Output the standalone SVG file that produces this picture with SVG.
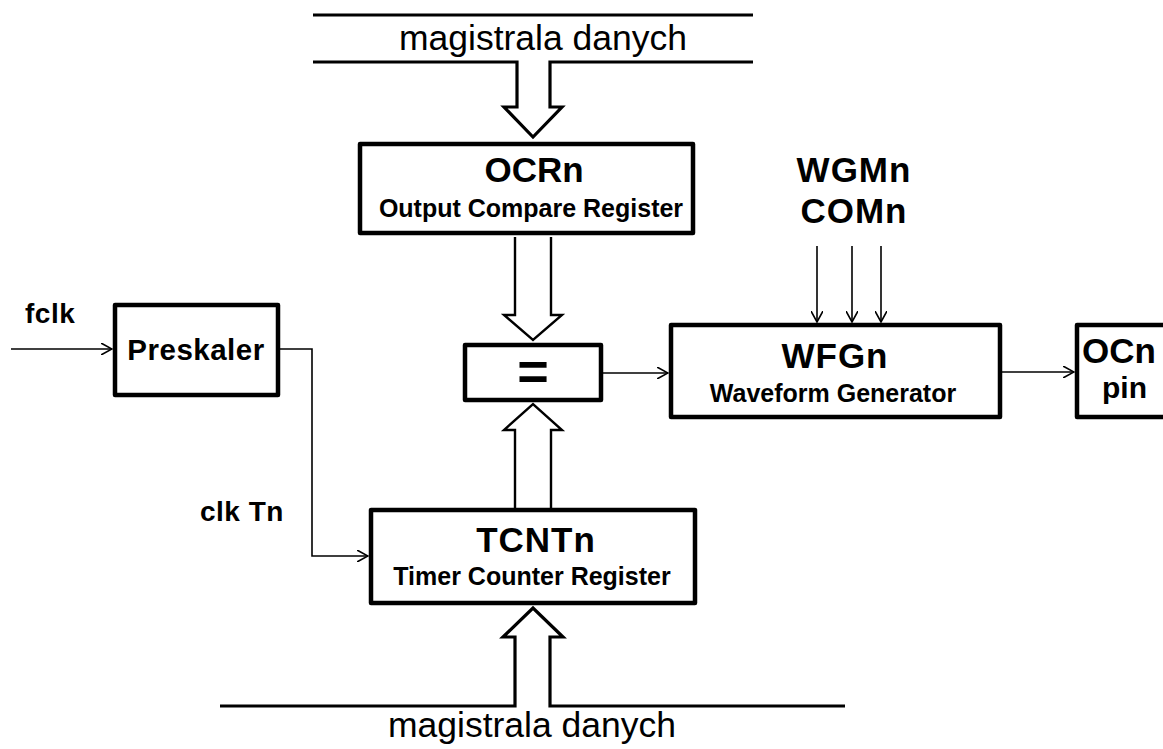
<svg xmlns="http://www.w3.org/2000/svg" width="1163" height="749" viewBox="0 0 1163 749">
<defs>
<marker id="arr" viewBox="0 0 12 12" refX="11" refY="6" markerWidth="12" markerHeight="12" markerUnits="userSpaceOnUse" orient="auto">
<path d="M0,0 L11,6 L0,12" fill="none" stroke="#000" stroke-width="1.6"/>
</marker>
<style>
.box{fill:#fff;stroke:#000;stroke-width:4.5;stroke-linejoin:round}
.thin{fill:none;stroke:#000;stroke-width:1.6;marker-end:url(#arr)}
.bus{fill:none;stroke:#000;stroke-width:3.2;stroke-linejoin:miter}
.big{fill:none;stroke:#000;stroke-width:2.4;stroke-linejoin:miter}
.t{font-family:"Liberation Sans",Arial,sans-serif;fill:#000}
.b{font-weight:bold}
.title{font-size:35px;font-weight:bold;text-anchor:middle}
.sub{font-size:25px;font-weight:bold;text-anchor:middle}
.lbl{font-size:28px;font-weight:bold;letter-spacing:0.5px}
.bustxt{font-size:35.5px}
</style>
</defs>
<rect width="1163" height="749" fill="#fff"/>
<g id="connectors">
<line class="bus" x1="313" y1="15" x2="753" y2="15"/>
<path class="bus" d="M313,62 H517 V107 H504 L533,137 L562,107 H550 V62 H753"/>
<path class="big" d="M515,237 V315 H504 L533,340 L562,315 H551 V237"/>
<path class="big" d="M515,508 V430 H504 L533,404 L562,430 H551 V508"/>
<path class="bus" d="M220,706 H515 V637 H503 L533,608 L563,637 H550 V706 H845"/>
<line class="thin" x1="11" y1="349" x2="112" y2="349"/>
<path class="thin" d="M280,349 H312 V556 H368"/>
<line class="thin" x1="603" y1="373" x2="668" y2="373"/>
<line class="thin" x1="1002" y1="372" x2="1074" y2="372"/>
<line class="thin" x1="817" y1="246" x2="817" y2="322"/>
<line class="thin" x1="852" y1="246" x2="852" y2="322"/>
<line class="thin" x1="881" y1="246" x2="881" y2="322"/>
</g>
<g id="bus-top-label"><text class="t bustxt" x="543" y="50" text-anchor="middle">magistrala danych</text></g>
<g id="bus-bottom-label"><text class="t bustxt" x="532" y="737" text-anchor="middle">magistrala danych</text></g>
<g id="ocrn">
<rect class="box" x="360" y="144" width="333" height="89"/>
<text class="t title" x="534" y="182" font-size="36">OCRn</text>
<text class="t sub" x="531" y="217">Output Compare Register</text>
</g>
<g id="preskaler">
<rect class="box" x="115" y="305" width="163" height="90"/>
<text class="t b" x="196" y="360" font-size="29.5" text-anchor="middle" letter-spacing="0.5">Preskaler</text>
</g>
<g id="fclk-label"><text class="t lbl" x="25" y="323" letter-spacing="1">fclk</text></g>
<g id="clktn-label"><text class="t lbl" x="200" y="521" letter-spacing="1">clk Tn</text></g>
<g id="compare">
<rect class="box" x="465" y="345" width="136" height="55"/>
<text class="t b" x="533" y="390" font-size="54" text-anchor="middle">=</text>
</g>
<g id="wgm-label">
<text class="t title" x="854" y="182" letter-spacing="1">WGMn</text>
<text class="t title" x="854" y="223" letter-spacing="1">COMn</text>
</g>
<g id="wfgn">
<rect class="box" x="671" y="325" width="329" height="92"/>
<text class="t title" x="835" y="368" letter-spacing="1">WFGn</text>
<text class="t sub" x="833" y="402" font-size="26.5">Waveform Generator</text>
</g>
<g id="ocn">
<rect class="box" x="1077" y="325" width="120" height="92"/>
<text class="t b" x="1082" y="363" font-size="35">OCn</text>
<text class="t b" x="1102" y="398" font-size="30">pin</text>
</g>
<g id="tcntn">
<rect class="box" x="371" y="510" width="324" height="93"/>
<text class="t title" x="536" y="552" font-size="37" letter-spacing="1">TCNTn</text>
<text class="t sub" x="532" y="585">Timer Counter Register</text>
</g>
</svg>
